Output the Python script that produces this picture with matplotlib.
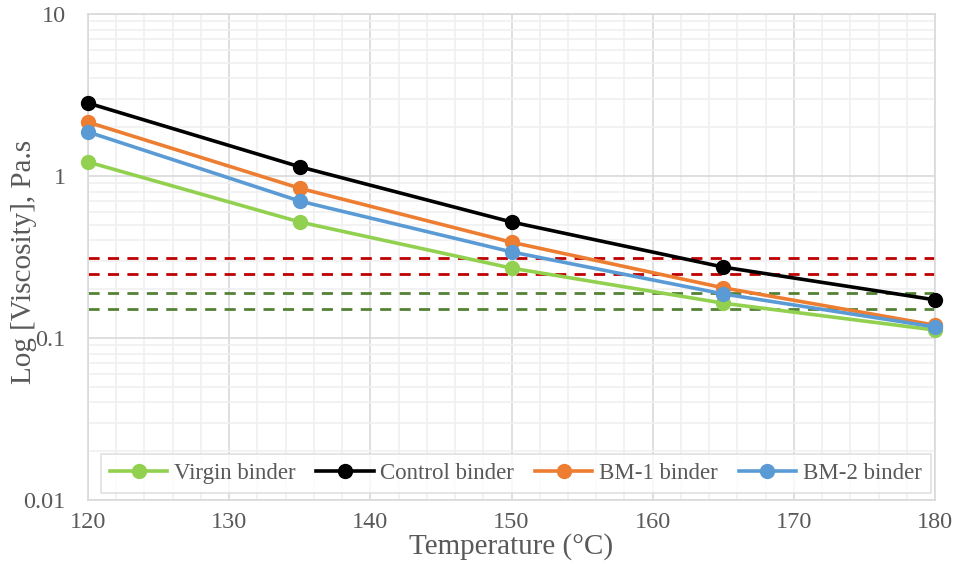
import numpy as np
import matplotlib.pyplot as plt
from matplotlib.ticker import MultipleLocator, LogLocator, NullFormatter, FixedLocator, FixedFormatter

### data
temps = [120, 135, 150, 165, 180]
virgin = [1.22, 0.52, 0.27, 0.164, 0.112]
control = [2.82, 1.14, 0.52, 0.274, 0.172]
bm1 = [2.15, 0.84, 0.39, 0.204, 0.120]
bm2 = [1.87, 0.70, 0.34, 0.187, 0.117]
red_limits = [0.31, 0.25]
green_limits = [0.19, 0.15]

names = ["Virgin binder", "Control binder", "BM-1 binder", "BM-2 binder"]
colors = ["#92D050", "#000000", "#ED7D31", "#5B9BD5"]
series = [virgin, control, bm1, bm2]

plt.rcParams.update({"font.family": ["Liberation Serif", "DejaVu Serif"],
                     "text.color": "#595959"})

fig = plt.figure(figsize=(9.56, 5.71), dpi=100)
ax = fig.add_axes([88/956, 71/571, 847/956, 486/571])

for y in red_limits:
    ax.axhline(y, color="#C00000", lw=2, ls=(0, (4, 3)), zorder=2)
for y in green_limits:
    ax.axhline(y, color="#548235", lw=2, ls=(0, (4, 3)), zorder=2)

for name, c, vals in zip(names, colors, series):
    ax.plot(temps, vals, '-o', color=c, lw=2.6, ms=10, label=name, zorder=3,
            clip_on=False)

ax.set_yscale('log')
ax.set_ylim(0.01, 10)
ax.set_xlim(120, 180)
ax.xaxis.set_major_locator(MultipleLocator(10))
ax.xaxis.set_minor_locator(MultipleLocator(2))
ax.yaxis.set_major_locator(FixedLocator([0.01, 0.1, 1, 10]))
ax.yaxis.set_major_formatter(FixedFormatter(["0.01", "0.1", "1", "10"]))
ax.yaxis.set_minor_locator(LogLocator(base=10, subs=np.arange(2, 10)))
ax.yaxis.set_minor_formatter(NullFormatter())

ax.grid(True, which='major', color="#D9D9D9", lw=1.2, zorder=0)
ax.grid(True, which='minor', color="#F0F0F0", lw=1.2, zorder=0)
ax.set_axisbelow(True)
for s in ax.spines.values():
    s.set_color("#D9D9D9")
    s.set_linewidth(1.2)
ax.tick_params(which='both', length=0, labelsize=17.5, labelcolor="#595959")
ax.tick_params(axis='y', pad=16)
ax.tick_params(axis='x', pad=9)

ax.set_xlabel("Temperature (°C)", fontsize=21, color="#595959", labelpad=0)
ax.set_ylabel("Log [Viscosity], Pa.s", fontsize=21, color="#595959")
ax.yaxis.set_label_coords(-0.060, 0.49)

leg = ax.legend(loc='lower center', ncol=4, fontsize=16.5, frameon=True,
                fancybox=False, edgecolor="#D9D9D9", handlelength=2.5,
                columnspacing=0.9, handletextpad=0.3, borderaxespad=0.3,
                borderpad=0.4, bbox_to_anchor=(0.505, 0.0))
leg.get_frame().set_linewidth(1.2)
for t in leg.get_texts():
    t.set_color("#595959")

fig.savefig("out.png", dpi=100)
